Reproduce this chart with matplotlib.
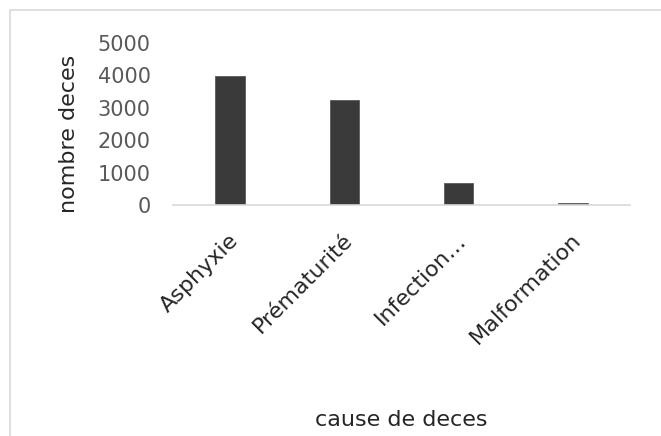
import matplotlib
matplotlib.use("Agg")
import matplotlib.pyplot as plt
from matplotlib.patches import Rectangle
from matplotlib.transforms import ScaledTranslation

# death counts by cause
causes = ["Asphyxie", "Prématurité", "Infection…", "Malformation"]
deaths = [3960, 3230, 670, 60]
yticks = [0, 1000, 2000, 3000, 4000, 5000]

plt.rcParams["font.family"] = ["DejaVu Sans"]

fig = plt.figure(figsize=(6.61, 4.36), dpi=100)
fig.patch.set_facecolor("white")
ax = fig.add_axes([0.2617, 0.5298, 0.6914, 0.3727])

x = range(len(causes))
ax.bar(x, deaths, width=0.26, color="#3a3a3a", edgecolor="#5a5a5a", linewidth=0.6)

ax.set_xlim(-0.5, len(causes) - 0.5)
ax.set_ylim(0, 5000)
ax.set_yticks(yticks)
ax.set_yticklabels([str(v) for v in yticks])
ax.set_xticks(list(x))
ax.set_xticklabels(causes)

# spines: only a light baseline
for side in ["top", "right", "left"]:
    ax.spines[side].set_visible(False)
ax.spines["bottom"].set_color("#d9d9d9")
ax.spines["bottom"].set_linewidth(1.2)

ax.tick_params(axis="y", length=0, pad=16, labelsize=15, labelcolor="#595959")
ax.tick_params(axis="x", length=0, pad=23, labelsize=16, labelcolor="#262626")
offset = ScaledTranslation(3.5 / 72, 0, fig.dpi_scale_trans)
for lbl in ax.get_xticklabels():
    lbl.set_rotation(45)
    lbl.set_ha("right")
    lbl.set_va("center")
    lbl.set_rotation_mode("anchor")
    lbl.set_transform(lbl.get_transform() + offset)

ax.set_ylabel("nombre deces", fontsize=16, color="#262626", va="center")
ax.yaxis.set_label_coords(-0.227, 0.437)
ax.set_xlabel("cause de deces", fontsize=16, color="#262626", va="center")
ax.xaxis.set_label_coords(0.499, -1.323)

# light frame around the chart area
fig.add_artist(Rectangle((9.5 / 661, -0.2), 2, 1.2 - 9.5 / 436,
                         transform=fig.transFigure, fill=False,
                         edgecolor="#d9d9d9", linewidth=1.2))

fig.savefig("out.png", dpi=100)
